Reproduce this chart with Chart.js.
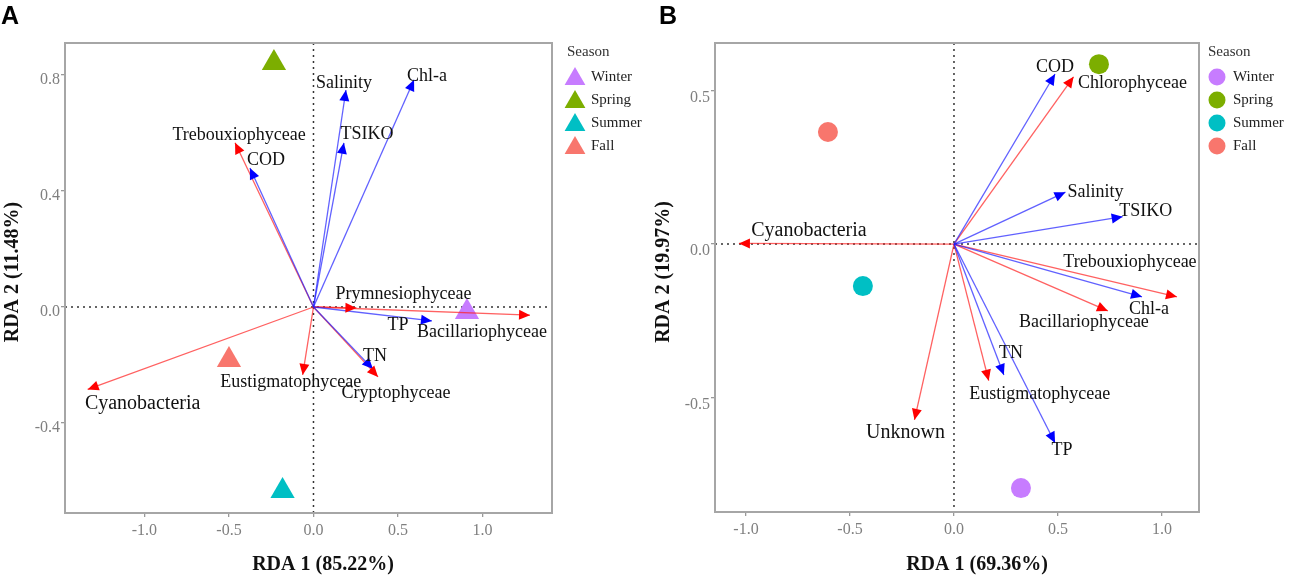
<!DOCTYPE html>
<html>
<head>
<meta charset="utf-8">
<script src="https://cdn.jsdelivr.net/npm/chart.js@4.4.0/dist/chart.umd.min.js"></script>
<style>
  body { margin: 0; background: #fff; width: 1295px; height: 580px; position: relative; overflow: hidden; }
  canvas { position: absolute; top: 0; }
  #chartA { left: 0; }
  #chartB { left: 647px; }
</style>
</head>
<body>
<canvas id="chartA" width="647" height="580"></canvas>
<canvas id="chartB" width="648" height="580"></canvas>
<script>
const seasons = ['Winter', 'Spring', 'Summer', 'Fall'];
const seasonColors = ['#C77CFF', '#7CAE00', '#00BFC4', '#F8766D'];

// panel A: site scores and biplot arrows
const siteAx = [0.908, -0.234, -0.183, -0.50];
const siteAy = [-0.017, 0.841, -0.634, -0.183];
const envA = ['Salinity', 'Chl-a', 'TSIKO', 'COD', 'TP', 'TN'];
const envAx = [0.192, 0.595, 0.180, -0.376, 0.701, 0.352];
const envAy = [0.748, 0.783, 0.566, 0.479, -0.048, -0.214];
const taxaA = ['Trebouxiophyceae', 'Prymnesiophyceae', 'Bacillariophyceae', 'Cyanobacteria', 'Eustigmatophyceae', 'Cryptophyceae'];
const taxaAx = [-0.464, 0.254, 1.281, -1.336, -0.064, 0.382];
const taxaAy = [0.566, -0.003, -0.028, -0.284, -0.234, -0.241];
const xTicksA = [-1.0, -0.5, 0.0, 0.5, 1.0];
const yTicksA = [-0.4, 0.0, 0.4, 0.8];

// panel B
const siteBx = [0.322, 0.697, -0.438, -0.606];
const siteBy = [-0.795, 0.586, -0.137, 0.365];
const envB = ['COD', 'Salinity', 'TSIKO', 'Chl-a', 'TN', 'TP'];
const envBx = [0.486, 0.536, 0.811, 0.904, 0.240, 0.486];
const envBy = [0.554, 0.169, 0.089, -0.172, -0.427, -0.648];
const taxaB = ['Chlorophyceae', 'Cyanobacteria', 'Trebouxiophyceae', 'Bacillariophyceae', 'Eustigmatophyceae', 'Unknown'];
const taxaBx = [0.575, -1.034, 1.072, 0.740, 0.167, -0.190];
const taxaBy = [0.545, 0.002, -0.172, -0.218, -0.445, -0.573];
const xTicksB = [-1.0, -0.5, 0.0, 0.5, 1.0];
const yTicksB = [-0.5, 0.0, 0.5];

// where each arrow label sits, in pixels from the arrow tip
const envAOff = [[-2, -7], [13, -4], [23, -9], [16, -8], [-34, 4], [2, -13]];
const taxaAOff = [[4, -8], [47, -14], [-48, 17], [55, 14], [-12, 7], [18, 16]];
const envBOff = [[0, -7], [30, 0], [23, -5], [7, 12], [7, -22], [7, 7]];
const taxaBOff = [[59, 7], [70, -13], [-47, -35], [-24, 11], [51, 14], [-9, 13]];
const bigLabels = ['Cyanobacteria', 'Unknown'];

const serif = '"Liberation Serif", "Times New Roman", serif';
const lineBlue = 'rgba(30,30,255,0.7)', headBlue = '#0000ff';
const lineRed = 'rgba(255,30,30,0.7)', headRed = '#ff0000';

function arrowSets(names, xs, ys, offs, kind) {
  return names.map((n, i) => ({
    type: 'line',
    label: n,
    kind: kind,
    textOff: offs[i],
    data: [{x: 0, y: 0}, {x: xs[i], y: ys[i]}],
    borderColor: kind === 'env' ? lineBlue : lineRed,
    borderWidth: 1.3,
    showLine: true,
    pointRadius: 0,
    fill: false,
    order: 1
  }));
}

function siteSets(xs, ys, style, r) {
  return seasons.map((s, i) => ({
    type: 'scatter',
    label: s,
    data: [{x: xs[i], y: ys[i]}],
    backgroundColor: seasonColors[i],
    borderColor: seasonColors[i],
    borderWidth: 0,
    pointStyle: style,
    pointRadius: r,
    pointHoverRadius: r,
    order: 2
  }));
}

const decor = {
  id: 'rdaDecor',
  beforeDatasetsDraw(chart) {
    const {ctx, chartArea: a} = chart;
    const x0 = chart.scales.x.getPixelForValue(0);
    const y0 = chart.scales.y.getPixelForValue(0);
    ctx.save();
    ctx.strokeStyle = '#333';
    ctx.lineWidth = 1.5;
    ctx.setLineDash([2, 4]);
    ctx.beginPath();
    ctx.moveTo(x0, a.top); ctx.lineTo(x0, a.bottom);
    ctx.moveTo(a.left, y0); ctx.lineTo(a.right, y0);
    ctx.stroke();
    ctx.setLineDash([]);
    ctx.strokeStyle = '#a6a6a6';
    ctx.lineWidth = 2;
    ctx.strokeRect(a.left, a.top, a.right - a.left, a.bottom - a.top);
    ctx.restore();
  },
  afterDatasetsDraw(chart) {
    const ctx = chart.ctx;
    chart.data.datasets.forEach((ds, i) => {
      if (!ds.kind) return;
      const pts = chart.getDatasetMeta(i).data;
      const p0 = pts[0], p1 = pts[1];
      const ang = Math.atan2(p1.y - p0.y, p1.x - p0.x);
      ctx.save();
      ctx.fillStyle = ds.kind === 'env' ? headBlue : headRed;
      ctx.translate(p1.x, p1.y);
      ctx.rotate(ang);
      ctx.beginPath();
      ctx.moveTo(0, 0); ctx.lineTo(-11, -5); ctx.lineTo(-11, 5);
      ctx.closePath();
      ctx.fill();
      ctx.restore();

      ctx.save();
      const size = bigLabels.includes(ds.label) ? 20 : 18;
      ctx.font = size + 'px ' + serif;
      ctx.fillStyle = '#111';
      ctx.textAlign = 'center';
      ctx.textBaseline = 'middle';
      ctx.fillText(ds.label, p1.x + ds.textOff[0], p1.y + ds.textOff[1]);
      ctx.restore();
    });
  },
  afterDraw(chart, args, o) {
    const ctx = chart.ctx;
    ctx.save();
    // legend
    ctx.textAlign = 'left';
    ctx.textBaseline = 'middle';
    ctx.font = '15px ' + serif;
    ctx.fillStyle = '#333';
    ctx.fillText('Season', o.legX, 52);
    const rows = [77, 100, 123, 146];
    seasons.forEach((s, i) => {
      ctx.fillStyle = seasonColors[i];
      Chart.helpers.drawPoint(ctx, {pointStyle: o.style, radius: o.legR, borderWidth: 0, rotation: 0}, o.markX, rows[i] + o.markDy);
      ctx.fillStyle = '#222';
      ctx.fillText(s, o.textX, rows[i]);
    });
    // axis titles
    ctx.fillStyle = '#111';
    ctx.textAlign = 'center';
    ctx.font = 'bold 20px ' + serif;
    ctx.fillText(o.xTitle, o.xTitleX, 565);
    ctx.save();
    ctx.translate(o.yTitleX, 272);
    ctx.rotate(-Math.PI / 2);
    ctx.fillText(o.yTitle, 0, 0);
    ctx.restore();
    // panel letter
    ctx.font = 'bold 25px "Liberation Sans", Arial, sans-serif';
    ctx.fillStyle = '#000';
    ctx.fillText(o.letter, o.letterX, 17);
    ctx.restore();
  }
};

function axis(min, max, ticks, fitKey, fitSize, labelOffset) {
  return {
    type: 'linear',
    min: min,
    max: max,
    afterBuildTicks: s => { s.ticks = ticks.map(v => ({value: v})); },
    afterFit: s => { s[fitKey] = fitSize; },
    ticks: {
      callback: v => v.toFixed(1),
      font: {family: serif, size: 16},
      color: '#7f7f7f',
      padding: fitKey === 'height' ? 4 : 1,
      labelOffset: labelOffset,
      autoSkip: false,
      maxRotation: 0
    },
    grid: {drawOnChartArea: false, drawTicks: true, tickLength: 4, color: '#999', lineWidth: 1.3},
    border: {display: false}
  };
}

function makePanel(id, datasets, sc, deco) {
  new Chart(document.getElementById(id), {
    type: 'scatter',
    data: {datasets: datasets},
    options: {
      responsive: false,
      animation: false,
      events: [],
      layout: {padding: {left: 0, top: 43, right: sc.padRight, bottom: 0}},
      scales: {
        x: axis(sc.xMin, sc.xMax, sc.xTicks, 'height', sc.xAxisH, 0),
        y: axis(sc.yMin, sc.yMax, sc.yTicks, 'width', sc.yAxisW, sc.yLabelOff)
      },
      plugins: {
        legend: {display: false},
        tooltip: {enabled: false},
        rdaDecor: deco
      }
    },
    plugins: [decor]
  });
}

makePanel('chartA',
  arrowSets(envA, envAx, envAy, envAOff, 'env')
    .concat(arrowSets(taxaA, taxaAx, taxaAy, taxaAOff, 'taxa'))
    .concat(siteSets(siteAx, siteAy, 'triangle', 14)),
  {xMin: -1.470, xMax: 1.411, yMin: -0.710, yMax: 0.910, xTicks: xTicksA, yTicks: yTicksA,
   padRight: 95, xAxisH: 67, yAxisW: 65, yLabelOff: 5},
  {style: 'triangle', legR: 12, legX: 567, markX: 575, markDy: 2, textX: 591,
   xTitle: 'RDA 1 (85.22%)', xTitleX: 323, yTitle: 'RDA 2 (11.48%)', yTitleX: 13,
   letter: 'A', letterX: 10});

makePanel('chartB',
  arrowSets(envB, envBx, envBy, envBOff, 'env')
    .concat(arrowSets(taxaB, taxaBx, taxaBy, taxaBOff, 'taxa'))
    .concat(siteSets(siteBx, siteBy, 'circle', 10)),
  {xMin: -1.149, xMax: 1.178, yMin: -0.873, yMax: 0.655, xTicks: xTicksB, yTicks: yTicksB,
   padRight: 96, xAxisH: 68, yAxisW: 68, yLabelOff: 7},
  {style: 'circle', legR: 8.5, legX: 561, markX: 570, markDy: 0, textX: 586,
   xTitle: 'RDA 1 (69.36%)', xTitleX: 330, yTitle: 'RDA 2 (19.97%)', yTitleX: 17,
   letter: 'B', letterX: 21});
</script>
</body>
</html>
